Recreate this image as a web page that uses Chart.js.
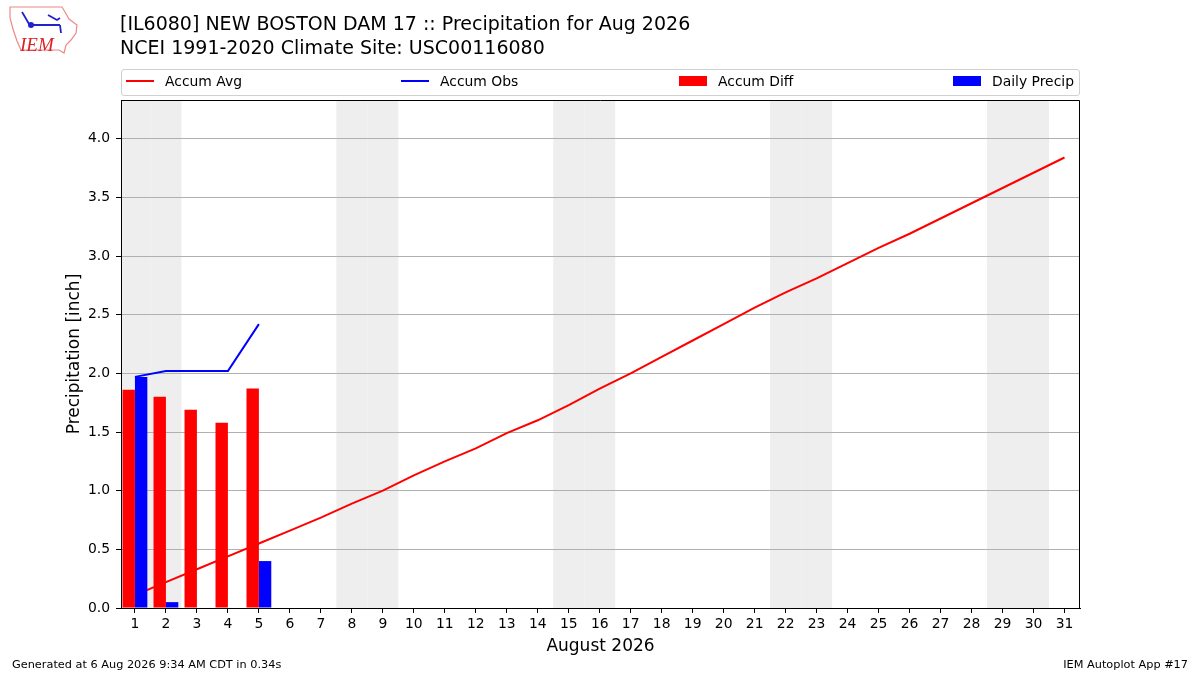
<!DOCTYPE html>
<html>
<head>
<meta charset="utf-8">
<script src="https://cdn.jsdelivr.net/npm/chart.js@4.4.1/dist/chart.umd.min.js"></script>
<style>
  body { margin: 0; background: #fff; font-family: "DejaVu Sans", sans-serif; }
  #wrap { position: relative; width: 1200px; height: 675px; overflow: hidden; }
  #pie { position: absolute; left: 0; top: 0; }
  .title { position: absolute; left: 120px; font-size: 19px; color: #000; white-space: nowrap; }
  .foot { position: absolute; top: 658px; font-size: 11.3px; color: #000; white-space: nowrap; }
  #legend { position: absolute; left: 121px; top: 69px; width: 957px; height: 25px;
            border: 1px solid #d0d0d0; border-radius: 3px; font-size: 13.9px; }
  .item { position: absolute; top: 3px; white-space: nowrap; }
  .mark { position: absolute; }
</style>
</head>
<body>
<div id="wrap">
  <canvas id="pie" width="1200" height="675"></canvas>
  <svg style="position:absolute;left:0;top:0" width="90" height="65">
    <path d="M10,7 L62,7 L65,12 L69,19 L77,25 L76,33 L71,40 L66,45 L64,53 L59,50 L21,50 L17,41 L13,29 L10,18 Z"
          fill="none" stroke="#e88" stroke-width="1.2"/>
    <path d="M22,12 L25,17 L29,24 M31,25 L60,25 M48,15 L57,20 L60,18 M60,25 L61,33" fill="none" stroke="#22c" stroke-width="1.8"/>
    <circle cx="31" cy="25" r="3" fill="#22c"/>
    <text x="20" y="51" font-family="Liberation Serif, serif" font-style="italic" font-size="19" fill="#d22">IEM</text>
  </svg>
  <div class="title" style="top:12px">[IL6080] NEW BOSTON DAM 17 :: Precipitation for Aug 2026</div>
  <div class="title" style="top:36px">NCEI 1991-2020 Climate Site: USC00116080</div>
  <div id="legend"></div>
  <div class="foot" style="left:12px">Generated at 6 Aug 2026 9:34 AM CDT in 0.34s</div>
  <div class="foot" style="right:12px">IEM Autoplot App #17</div>
</div>
<script>
const days = [1, 2, 3, 4, 5, 6, 7, 8, 9, 10, 11, 12, 13, 14, 15, 16,
              17, 18, 19, 20, 21, 22, 23, 24, 25, 26, 27, 28, 29, 30, 31];
const accumAvg = [0.11, 0.22, 0.33, 0.44, 0.55, 0.66, 0.77, 0.89, 1.00, 1.13, 1.25,
                  1.36, 1.49, 1.60, 1.73, 1.87, 2.00, 2.14, 2.28, 2.42, 2.56, 2.69,
                  2.81, 2.94, 3.07, 3.19, 3.32, 3.45, 3.58, 3.71, 3.84];
const obsDays = [1, 2, 3, 4, 5];
const accumObs = [1.97, 2.02, 2.02, 2.02, 2.42];
const accumDiff = [1.86, 1.80, 1.69, 1.58, 1.87];
const dailyPrecip = [1.97, 0.05, 0.00, 0.00, 0.40];
const weekendDays = [1, 2, 8, 9, 15, 16, 22, 23, 29, 30];
const yTicks = [0, 0.5, 1.0, 1.5, 2.0, 2.5, 3.0, 3.5, 4.0];

// weekend bands under the grid
const shade = {
    id: 'shade',
    beforeDraw(chart) {
        const x = chart.scales.x, a = chart.chartArea, ctx = chart.ctx;
        ctx.save();
        ctx.fillStyle = '#eeeeee';
        weekendDays.forEach(d => {
            const l = Math.max(x.getPixelForValue(d - 0.5), a.left);
            const r = Math.min(x.getPixelForValue(d + 0.5), a.right);
            ctx.fillRect(l, a.top, r - l, a.bottom - a.top);
        });
        ctx.restore();
    }
};
const frame = {
    id: 'frame',
    afterDraw(chart) {
        const a = chart.chartArea, ctx = chart.ctx;
        ctx.save();
        ctx.strokeStyle = '#000';
        ctx.lineWidth = 1;
        ctx.beginPath();
        ctx.moveTo(Math.round(a.left), Math.round(a.top) + 0.5);
        ctx.lineTo(Math.round(a.right) - 0.5, Math.round(a.top) + 0.5);
        ctx.lineTo(Math.round(a.right) - 0.5, Math.round(a.bottom));
        ctx.stroke();
        ctx.restore();
    }
};

const pts = (xs, ys) => xs.map((d, i) => ({x: d, y: ys[i]}));

const CHART = document.getElementById('pie');
let precipChart = new Chart(CHART, {
    type: 'bar',
    data: {
        datasets: [
            {
                label: 'Accum Diff',
                data: pts(obsDays, accumDiff),
                backgroundColor: '#ff0000',
                categoryPercentage: 0.8,
                barPercentage: 1.0,
                order: 0
            },
            {
                label: 'Daily Precip',
                data: pts(obsDays, dailyPrecip),
                backgroundColor: '#0000ff',
                categoryPercentage: 0.8,
                barPercentage: 1.0,
                order: 0
            },
            {
                type: 'line',
                label: 'Accum Avg',
                data: pts(days, accumAvg),
                borderColor: '#ff0000',
                borderWidth: 2,
                pointRadius: 0,
                tension: 0,
                order: 1
            },
            {
                type: 'line',
                label: 'Accum Obs',
                data: pts(obsDays, accumObs),
                borderColor: '#0000ff',
                borderWidth: 2,
                pointRadius: 0,
                tension: 0,
                order: 1
            }
        ]
    },
    options: {
        responsive: false,
        animation: false,
        devicePixelRatio: 1,
        layout: { padding: { left: 59, right: 120, top: 100, bottom: 18 } },
        plugins: { legend: { display: false }, tooltip: { enabled: false } },
        scales: {
            x: {
                type: 'linear',
                min: 0.55,
                max: 31.5,
                offset: false,
                afterFit: s => { s.height = 49; },
                afterBuildTicks: s => { s.ticks = days.map(d => ({value: d})); },
                ticks: {
                    autoSkip: false, maxRotation: 0, padding: 3,
                    color: '#000', font: { family: 'DejaVu Sans', size: 13.9 }
                },
                grid: { offset: false, drawOnChartArea: false, tickLength: 5, tickColor: '#000' },
                border: { color: '#000', width: 1 },
                title: {
                    display: true, text: 'August 2026', color: '#000',
                    font: { family: 'DejaVu Sans', size: 17 }, padding: 0
                }
            },
            y: {
                min: 0,
                max: 4.33,
                afterFit: s => { s.width = 62; },
                afterBuildTicks: s => { s.ticks = yTicks.map(v => ({value: v})); },
                ticks: {
                    padding: 6, color: '#000',
                    font: { family: 'DejaVu Sans', size: 13.9 },
                    callback: v => v.toFixed(1)
                },
                grid: { color: '#b0b0b0', lineWidth: 1, tickLength: 5, tickColor: '#000' },
                border: { color: '#000', width: 1 },
                title: {
                    display: true, text: 'Precipitation [inch]', color: '#000',
                    font: { family: 'DejaVu Sans', size: 17 }, padding: { top: 5, bottom: 0 }
                }
            }
        }
    },
    plugins: [shade, frame]
});

// legend laid out in four equal columns like the original
const legendItems = [
    { label: 'Accum Avg', color: '#ff0000', kind: 'line', left: 4 },
    { label: 'Accum Obs', color: '#0000ff', kind: 'line', left: 279 },
    { label: 'Accum Diff', color: '#ff0000', kind: 'box', left: 557 },
    { label: 'Daily Precip', color: '#0000ff', kind: 'box', left: 831 }
];
const lg = document.getElementById('legend');
legendItems.forEach(it => {
    const m = document.createElement('div');
    m.className = 'mark';
    m.style.left = it.left + 'px';
    m.style.width = '28px';
    m.style.background = it.color;
    if (it.kind === 'line') { m.style.top = '10px'; m.style.height = '2px'; }
    else { m.style.top = '6px'; m.style.height = '10px'; }
    lg.appendChild(m);
    const t = document.createElement('div');
    t.className = 'item';
    t.style.left = (it.left + 39) + 'px';
    t.textContent = it.label;
    lg.appendChild(t);
});
</script>
</body>
</html>
